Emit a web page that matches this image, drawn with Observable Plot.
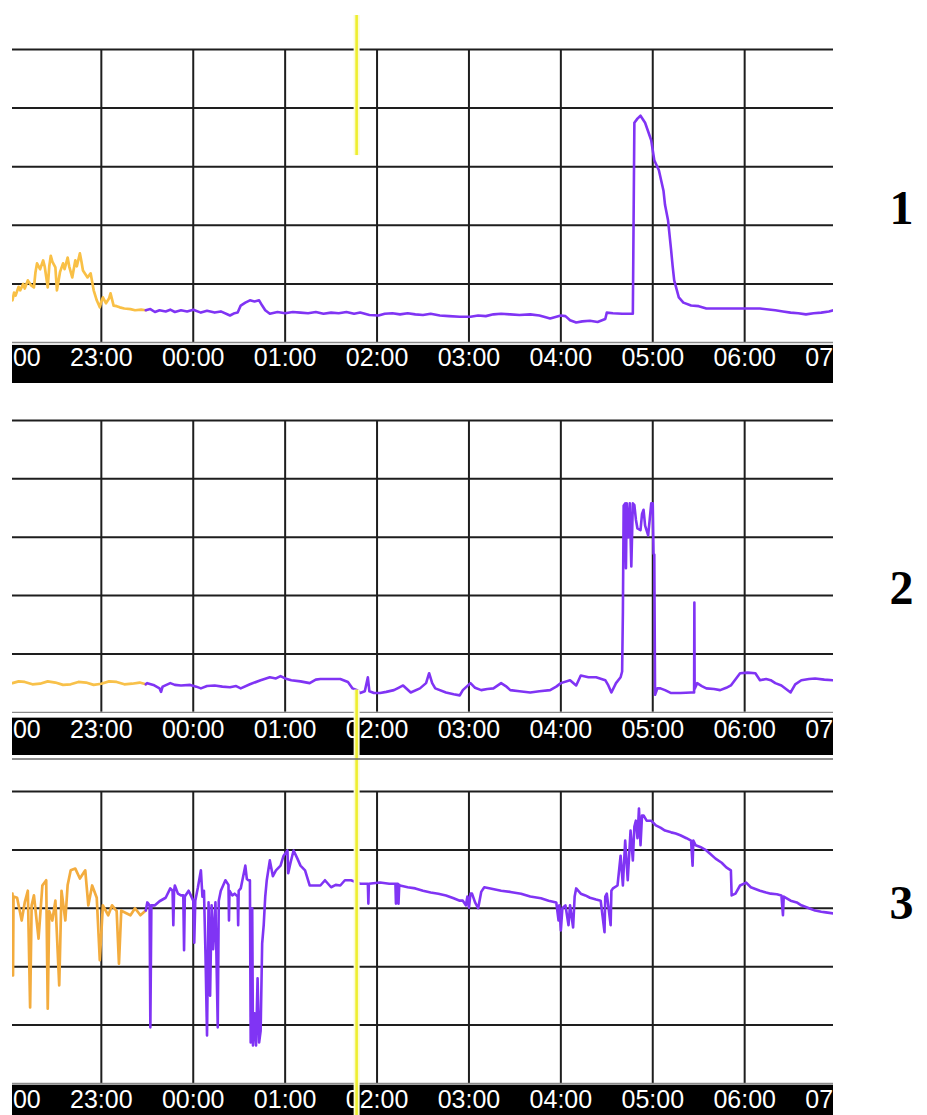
<!DOCTYPE html>
<html>
<head>
<meta charset="utf-8">
<script src="https://cdn.jsdelivr.net/npm/d3@7"></script>
<script src="https://cdn.jsdelivr.net/npm/@observablehq/plot@0.6"></script>
<style>
html, body { margin: 0; padding: 0; background: #fff; }
#chart { position: relative; width: 927px; height: 1115px; overflow: hidden; background: #fff; }
#chart svg { position: absolute; left: 0; display: block; }
</style>
</head>
<body>
<div id="chart"></div>
<script>
// ---------- data ----------
const hourTicks = ["22:00","23:00","00:00","01:00","02:00","03:00","04:00","05:00","06:00","07:00"];
const timeDomain = ["22:02", "06:58"];
const gridValues = [1, 2, 3, 4, 5];
const markerTime = "01:46:40";
const panelLabels = ["1", "2", "3"];

const p1Orange = [
 ["22:02",0.72],["22:03",0.85],["22:04",0.80],["22:06",0.95],["22:07",0.89],["22:09",1.00],["22:10",0.92],
 ["22:12",1.06],["22:14",0.98],["22:16",0.94],["22:17",1.20],["22:18",1.35],["22:20",1.25],["22:22",1.40],
 ["22:23",1.30],["22:25",0.94],["22:26",1.30],["22:27",1.48],["22:28",1.38],["22:30",1.28],["22:31",0.89],
 ["22:33",1.20],["22:35",1.35],["22:36",1.25],["22:38",1.45],["22:39",1.30],["22:41",1.11],["22:43",1.40],
 ["22:44",1.30],["22:46",1.52],["22:47",1.38],["22:48",1.23],["22:51",1.11],["22:53",1.18],["22:55",0.89],
 ["22:57",0.72],["22:59",0.60],["23:00",0.70],["23:01",0.77],["23:03",0.67],["23:05",0.75],["23:06",0.84],
 ["23:08",0.63],["23:10",0.62],["23:12",0.60],["23:15",0.58],["23:19",0.57],["23:22",0.55],["23:26",0.56],["23:29",0.55]
];
const p1Purple = [
 ["23:29",0.55],["23:32",0.57],["23:35",0.52],["23:38",0.55],["23:42",0.53],["23:45",0.56],["23:48",0.52],
 ["23:52",0.55],["23:56",0.53],["00:00",0.56],["00:05",0.51],["00:09",0.54],["00:14",0.51],["00:18",0.53],
 ["00:24",0.46],["00:27",0.50],["00:29",0.51],["00:31",0.63],["00:34",0.68],["00:37",0.72],["00:40",0.70],
 ["00:43",0.72],["00:45",0.63],["00:47",0.55],["00:50",0.49],["00:55",0.52],["01:00",0.50],["01:05",0.52],
 ["01:10",0.51],["01:15",0.50],["01:20",0.52],["01:25",0.49],["01:30",0.51],["01:35",0.50],["01:40",0.52],
 ["01:45",0.49],["01:49",0.51],["01:55",0.47],["02:01",0.46],["02:05",0.49],["02:10",0.50],["02:15",0.48],
 ["02:20",0.50],["02:25",0.48],["02:30",0.47],["02:35",0.49],["02:41",0.46],["02:47",0.45],["02:54",0.44],
 ["03:01",0.44],["03:06",0.46],["03:11",0.45],["03:16",0.48],["03:21",0.49],["03:27",0.48],["03:33",0.47],
 ["03:40",0.48],["03:46",0.46],["03:53",0.41],["04:00",0.46],["04:03",0.45],["04:06",0.38],["04:10",0.34],
 ["04:14",0.36],["04:19",0.37],["04:24",0.35],["04:29",0.40],["04:30",0.51],["04:34",0.50],["04:40",0.49],
 ["04:47",0.49],["04:48",3.75],["04:50",3.82],["04:52",3.87],["04:55",3.75],["04:57",3.60],["04:59",3.45],
 ["05:01",3.11],["05:04",2.94],["05:07",2.59],["05:08",2.35],["05:10",2.08],["05:12",1.57],["05:13",1.30],
 ["05:14",1.06],["05:17",0.77],["05:20",0.68],["05:25",0.63],["05:30",0.62],["05:35",0.58],["05:44",0.58],
 ["05:55",0.58],["06:05",0.58],["06:10",0.58],["06:20",0.55],["06:25",0.53],["06:30",0.51],["06:35",0.50],
 ["06:40",0.48],["06:45",0.50],["06:50",0.51],["06:55",0.53],["06:58",0.55]
];

const p2Orange = [
 ["22:02",0.50],["22:06",0.53],["22:10",0.52],["22:15",0.48],["22:20",0.49],["22:25",0.53],["22:30",0.51],
 ["22:35",0.47],["22:40",0.48],["22:45",0.52],["22:50",0.51],["22:55",0.47],["23:00",0.49],["23:05",0.53],
 ["23:10",0.52],["23:15",0.48],["23:20",0.49],["23:25",0.51],["23:29",0.48]
];
const p2Purple = [
 ["23:29",0.48],["23:30",0.50],["23:34",0.47],["23:38",0.41],["23:39",0.35],["23:40",0.44],["23:45",0.50],
 ["23:48",0.47],["23:52",0.46],["23:58",0.47],["00:02",0.44],["00:05",0.41],["00:09",0.45],["00:14",0.46],
 ["00:19",0.44],["00:24",0.43],["00:28",0.45],["00:31",0.41],["00:37",0.48],["00:44",0.55],["00:50",0.60],
 ["00:54",0.58],["00:57",0.62],["01:00",0.58],["01:04",0.55],["01:10",0.53],["01:16",0.50],["01:20",0.56],
 ["01:23",0.57],["01:30",0.57],["01:36",0.57],["01:41",0.52],["01:44",0.41],["01:47",0.38],["01:49",0.33],
 ["01:52",0.36],["01:54",0.60],["01:55",0.36],["01:58",0.33],["02:02",0.33],["02:06",0.35],["02:11",0.38],
 ["02:14",0.42],["02:17",0.46],["02:22",0.34],["02:28",0.41],["02:32",0.50],["02:34",0.67],["02:36",0.50],
 ["02:38",0.41],["02:45",0.34],["02:50",0.31],["02:54",0.29],["02:56",0.38],["03:01",0.50],["03:04",0.42],
 ["03:08",0.38],["03:12",0.40],["03:16",0.41],["03:21",0.50],["03:24",0.45],["03:27",0.38],["03:33",0.36],
 ["03:40",0.34],["03:46",0.36],["03:53",0.38],["03:57",0.44],["04:00",0.50],["04:06",0.55],["04:10",0.46],
 ["04:13",0.63],["04:18",0.60],["04:23",0.60],["04:29",0.55],["04:31",0.46],["04:33",0.34],["04:36",0.50],
 ["04:39",0.60],["04:40",0.70],["04:40:30",1.71],["04:41",3.54],["04:42",3.58],["04:42:30",2.47],["04:43",3.58],
 ["04:44",3.00],["04:45",3.58],["04:46",2.50],["04:47",3.58],["04:48",3.55],["04:49",3.30],["04:50",3.15],
 ["04:52",3.12],["04:53",3.40],["04:54",3.47],["04:55",3.20],["04:57",3.03],["04:58",3.30],["04:59",3.58],
 ["05:00",3.58],["05:00:30",2.72],["05:01",2.70],["05:01:30",0.30],["05:03",0.41],["05:05",0.41],["05:08",0.38],
 ["05:12",0.33],["05:18",0.33],["05:25",0.34],["05:27",0.34],["05:27:10",1.88],["05:27:20",0.40],["05:29",0.50],
 ["05:32",0.45],["05:35",0.41],["05:40",0.40],["05:44",0.38],["05:48",0.42],["05:51",0.46],["05:57",0.67],
 ["06:02",0.68],["06:07",0.67],["06:10",0.55],["06:14",0.57],["06:17",0.55],["06:20",0.50],["06:24",0.46],
 ["06:27",0.40],["06:30",0.34],["06:33",0.48],["06:37",0.55],["06:42",0.57],["06:46",0.58],["06:52",0.56],["06:58",0.55]
];

const p3Orange = [
 ["22:02",3.25],["22:02:20",1.85],["22:02:40",3.20],["22:05",3.18],["22:08",2.79],["22:10",3.10],["22:12",3.30],
 ["22:13:30",1.30],["22:14:30",3.05],["22:16",3.22],["22:19",2.48],["22:21:30",3.39],["22:24",3.48],["22:25",1.28],
 ["22:26",2.95],["22:28",2.79],["22:30",3.13],["22:32:30",1.68],["22:34",3.30],["22:36:30",2.79],["22:38",3.40],
 ["22:40",3.65],["22:43",3.68],["22:46",3.51],["22:49:30",3.65],["22:51:30",3.05],["22:54",3.39],["22:57",3.18],
 ["22:59",2.11],["23:01",3.05],["23:04:30",2.88],["23:07",3.05],["23:10",2.95],["23:11:30",2.05],["23:13",2.96],
 ["23:16",2.92],["23:19",2.88],["23:22",3.00],["23:25:30",2.88],["23:29",2.96]
];
const p3Purple = [
 ["23:29",2.96],["23:30",3.10],["23:31:30",3.05],["23:32",0.96],["23:32:40",3.05],["23:35",3.05],["23:38",3.12],
 ["23:42",3.18],["23:45",3.34],["23:46:30",3.30],["23:47",2.71],["23:47:30",3.30],["23:48",3.39],["23:50",3.25],
 ["23:52",3.22],["23:53:30",3.22],["23:54",2.28],["23:54:30",3.20],["23:57",3.30],["00:00",3.13],["00:00:40",2.41],
 ["00:01:20",3.13],["00:03",3.35],["00:05",3.65],["00:06",3.20],["00:07",3.30],["00:08",2.20],["00:09",0.82],
 ["00:10",3.10],["00:11",1.50],["00:12",3.05],["00:13",2.30],["00:14:30",3.10],["00:16",0.96],["00:16:40",3.13],
 ["00:18",3.30],["00:21",3.48],["00:23",3.40],["00:23:20",2.79],["00:23:40",3.30],["00:25:30",3.22],["00:27",3.25],
 ["00:29",3.20],["00:29:20",2.71],["00:29:40",3.30],["00:31",3.34],["00:34",3.73],["00:35",3.50],["00:36",3.48],
 ["00:37",3.48],["00:37:30",0.70],["00:38:30",3.00],["00:39",0.65],["00:40",1.20],["00:41",0.65],["00:42",1.80],
 ["00:43",0.70],["00:44",0.90],["00:45",2.40],["00:46",2.71],["00:47",3.20],["00:48",3.48],["00:50",3.82],
 ["00:52",3.55],["00:54",3.65],["00:57",3.73],["00:59",3.90],["01:01:30",3.99],["01:02",3.60],["01:03:30",3.78],
 ["01:05:30",3.99],["01:08",3.85],["01:10",3.73],["01:13",3.65],["01:16",3.39],["01:20",3.39],["01:23",3.39],
 ["01:26",3.48],["01:30",3.36],["01:33",3.40],["01:36",3.39],["01:39",3.48],["01:43",3.48],["01:46",3.45],
 ["01:49",3.42],["01:54",3.42],["01:54:20",3.08],["01:54:40",3.42],["02:02",3.44],["02:08",3.42],["02:12",3.42],
 ["02:12:20",3.08],["02:12:40",3.42],["02:13:30",3.42],["02:14",3.08],["02:14:30",3.40],["02:15",3.39],["02:20",3.36],
 ["02:25",3.34],["02:30",3.30],["02:35",3.27],["02:40",3.25],["02:45",3.22],["02:50",3.17],["02:54",3.13],
 ["02:56",3.13],["02:58",3.05],["02:59",3.20],["03:00",3.01],["03:01",3.25],["03:02",3.25],["03:04",3.10],
 ["03:06",3.00],["03:08",3.28],["03:10",3.36],["03:14",3.34],["03:21",3.30],["03:27",3.28],["03:34",3.25],
 ["03:40",3.20],["03:47",3.17],["03:52",3.13],["03:57",3.10],["03:58:30",2.79],["03:59",3.05],["04:00",2.62],
 ["04:01",3.00],["04:03",3.05],["04:05",2.71],["04:06",3.05],["04:08",2.67],["04:09",3.20],["04:10",3.34],
 ["04:13",3.25],["04:16",3.22],["04:19",3.18],["04:23",3.15],["04:26",3.13],["04:28:30",2.59],["04:29",3.20],
 ["04:30",3.25],["04:32:30",2.71],["04:33",3.30],["04:34",3.34],["04:37",3.39],["04:39",3.90],["04:40:30",3.39],
 ["04:42",4.16],["04:43:40",3.48],["04:45:30",4.33],["04:47",3.82],["04:48",4.40],["04:49",4.50],["04:50",4.20],
 ["04:51",4.71],["04:52",4.08],["04:53",4.59],["04:54",4.59],["04:56",4.50],["04:59",4.50],["05:02",4.42],
 ["05:05",4.38],["05:08",4.33],["05:12",4.30],["05:15",4.28],["05:18",4.25],["05:22",4.20],["05:25",4.16],
 ["05:26",3.73],["05:26:30",4.16],["05:28",4.08],["05:31",4.05],["05:35",3.99],["05:38",3.92],["05:41",3.85],
 ["05:45",3.78],["05:48",3.70],["05:51",3.65],["05:51:30",3.22],["05:54",3.25],["05:57",3.39],["06:01",3.44],
 ["06:04",3.36],["06:07",3.33],["06:10",3.30],["06:14",3.27],["06:17",3.25],["06:21",3.24],["06:24",3.22],
 ["06:25",2.88],["06:25:30",3.20],["06:30",3.13],["06:34",3.10],["06:37",3.05],["06:42",3.00],["06:46",2.96],
 ["06:50",2.94],["06:53",2.93],["06:58",2.91]
];

// ---------- helpers ----------
function toDate(s) {
  const [h, m, sec = 0] = s.split(":").map(Number);
  return new Date(Date.UTC(2000, 0, h >= 12 ? 1 : 2, h, m, sec));
}
const rows = arr => arr.map(([t, v]) => ({t: toDate(t), v}));

// layout of the three stacked panels (pixels / y-units)
const layout = [
  {top: 0,   height: 389, mt: 49, mb: 6,  yMin: -0.70, bandTop: -0.05, labelY: -0.265, mark: [3.19, 5.58], sep: null,  dy: -8},
  {top: 389, height: 376, mt: 31, mb: 10, yMin: -0.74, bandTop: -0.10, labelY: -0.31,  mark: [-0.95, 0.38], sep: -0.80, dy: 1},
  {top: 765, height: 350, mt: 26, mb: 0,  yMin: -0.55, bandTop: -0.03, labelY: -0.29,  mark: [-0.6, 5.5],  sep: null,  dy: -50}
];
const series = [[p1Orange, p1Purple], [p2Orange, p2Purple], [p3Orange, p3Purple]];

const orangeColors = ["#f9c046", "#f8c14a", "#f3ac3e"];
const purple = "#8034f4";
const gridColor = "#1e1e1e";
const x0 = toDate(timeDomain[0]), x1 = toDate(timeDomain[1]);
const ticks = hourTicks.map(h => ({t: toDate(h), label: h}));

const root = document.getElementById("chart");
layout.forEach((L, i) => {
  const [orangeData, purpleData] = series[i];
  const marks = [
    Plot.ruleY(gridValues, {stroke: gridColor, strokeWidth: 2}),
    Plot.ruleX(ticks, {x: "t", y1: 0, y2: 5, stroke: gridColor, strokeWidth: 2, clip: true}),
    Plot.ruleY([0], {stroke: "#8a8a8a", strokeWidth: 1.3}),
    Plot.rect([{}], {x1: x0, x2: x1, y1: L.bandTop, y2: L.yMin, fill: "#000"}),
    Plot.text(ticks, {x: "t", y: L.labelY, text: "label", fill: "#fff", fontSize: 25,
      fontFamily: "Liberation Sans, Arial, sans-serif", clip: true}),
    Plot.line(rows(orangeData), {x: "t", y: "v", stroke: orangeColors[i], strokeWidth: 2.7, strokeLinejoin: "round", clip: true}),
    Plot.line(rows(purpleData), {x: "t", y: "v", stroke: purple, strokeWidth: 2.6, strokeLinejoin: "round", clip: true}),
    Plot.ruleX([markerTime], {x: toDate, y1: L.mark[0], y2: L.mark[1], stroke: "#fbfbd2", strokeWidth: 6}),
    Plot.ruleX([markerTime], {x: toDate, y1: L.mark[0], y2: L.mark[1], stroke: "#eeee2e", strokeWidth: 2.6}),
    Plot.text([panelLabels[i]], {frameAnchor: "right", dx: 80, dy: L.dy, text: d => d, fill: "#000",
      fontSize: 48, fontWeight: "bold", fontFamily: "Liberation Serif, Times New Roman, serif"})
  ];
  if (L.sep !== null) marks.push(Plot.ruleY([L.sep], {stroke: "#6a6a6a", strokeWidth: 1.5}));
  const svg = Plot.plot({
    width: 927,
    height: L.height,
    marginTop: L.mt,
    marginBottom: L.mb,
    marginLeft: 12,
    marginRight: 94,
    x: {type: "utc", domain: [x0, x1], axis: null},
    y: {domain: [L.yMin, 5], axis: null},
    style: {background: "#fff"},
    marks
  });
  svg.style.top = L.top + "px";
  root.appendChild(svg);
});
</script>
</body>
</html>
